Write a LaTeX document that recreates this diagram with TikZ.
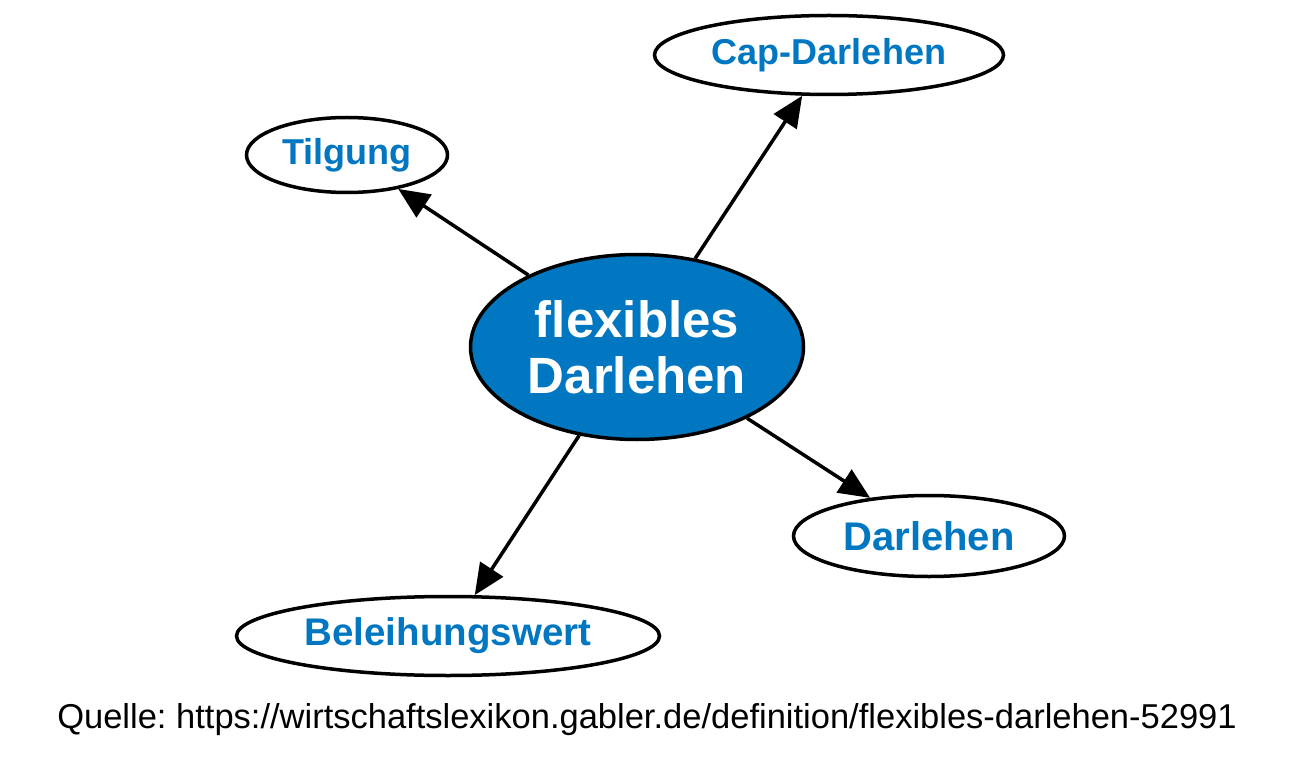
\documentclass[tikz,border=0pt]{standalone}
\usepackage{fontspec}
\setmainfont{Liberation Sans}
\usetikzlibrary{shapes.geometric,arrows.meta}
\definecolor{gablerblue}{HTML}{0077C0}
\frenchspacing

\begin{document}
\begin{tikzpicture}[x=1pt, y=-1pt,
             every node/.style = {draw, shape=ellipse, line width=3.5pt, inner sep=0pt,
                                  text=gablerblue, font=\bfseries\fontsize{36}{40}\selectfont},
             link/.style = {-{Triangle[length=31pt, width=27pt]}, line width=3.5pt}]
\useasboundingbox (0,0) rectangle (1300,775);

\node (flex) at (637,347) [fill=gablerblue, text=white, align=center,
      minimum width=333pt, minimum height=185pt,
      font=\bfseries\fontsize{51}{56}\selectfont] {flexibles\\Darlehen};

\node (tilg) at (347,155) [minimum width=201pt, minimum height=75pt] {Tilgung};
\node (cap) at (829,55) [minimum width=349pt, minimum height=79pt] {Cap-Darlehen};
\node (darl) at (929,536) [minimum width=271pt, minimum height=81pt,
      font=\bfseries\fontsize{40}{44}\selectfont] {Darlehen};
\node (bel) at (448,636) [minimum width=423pt, minimum height=79pt,
      font=\bfseries\fontsize{38.5}{42}\selectfont] {Beleihungswert};

\draw [link] (flex) -- (tilg);
\draw [link] (flex) -- (cap);
\draw [link] (flex) -- (darl);
\draw [link] (flex) -- (bel);

\node (quelle) at (647,728) [draw=none, anchor=base, text=black,
      font=\fontsize{34.5}{40}\selectfont]
      {Quelle: https://wirtschaftslexikon.gabler.de/definition/flexibles-darlehen-52991};

\end{tikzpicture}
\end{document}
